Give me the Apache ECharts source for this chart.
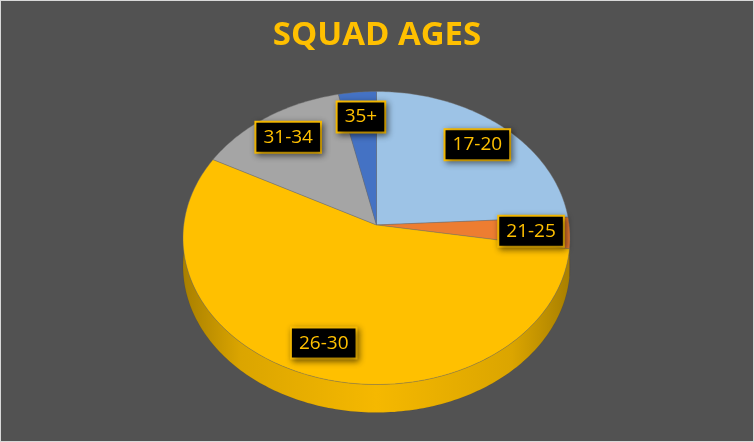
<!DOCTYPE html>
<html>
<head>
<meta charset="utf-8">
<script src="https://cdn.jsdelivr.net/npm/echarts@6/dist/echarts.min.js"></script>
<style>
html, body { margin: 0; padding: 0; background: #d9d9d9; }
#main { position: absolute; left: 1px; top: 1px; width: 752px; height: 440px; }
</style>
</head>
<body>
<div id="main"></div>
<script type="text/javascript">
var categories = ['17-20', '21-25', '26-30', '31-34', '35+'];
var counts = [7, 1, 16, 4, 1];
var colors = ['#9DC3E6', '#ED7D31', '#FFC000', '#A5A5A5', '#4472C4'];

var myChart = echarts.init(document.getElementById('main'));

// 3d pie geometry, px inside the chart
var cx = 375.5, cy = 237, rx = 193.5, ry = 146.5;
var tilt = -0.089;   // perspective, far side squashed a bit
var depth = 28;
var kx = Math.sqrt(1 - tilt * tilt);

var total = 0;
var starts = [];
for (var i = 0; i < counts.length; i++) {
    starts.push(total);
    total += counts[i];
}

function proj(ang, r, dy) {
    var u = r * Math.sin(ang), v = -r * Math.cos(ang);
    var w = 1 + tilt * v;
    return [cx + rx * u * kx / w, cy + ry * (v + tilt) / w + (dy || 0)];
}

function arcPts(a0, a1, dy) {
    var n = Math.max(2, Math.ceil(Math.abs(a1 - a0) / (Math.PI / 180)));
    var pts = [];
    for (var k = 0; k <= n; k++) {
        pts.push(proj(a0 + (a1 - a0) * k / n, 1, dy));
    }
    return pts;
}

function shade(hex, f) {
    var n = parseInt(hex.slice(1), 16);
    var r = Math.round(((n >> 16) & 255) * f);
    var g = Math.round(((n >> 8) & 255) * f);
    var b = Math.round((n & 255) * f);
    return 'rgb(' + r + ',' + g + ',' + b + ')';
}

function sideFill(color) {
    return {
        type: 'linear', global: true,
        x: cx - rx, y: 0, x2: cx + rx, y2: 0,
        colorStops: [
            {offset: 0, color: shade(color, 0.66)},
            {offset: 0.15, color: shade(color, 0.86)},
            {offset: 0.5, color: shade(color, 0.96)},
            {offset: 0.85, color: shade(color, 0.86)},
            {offset: 1, color: shade(color, 0.66)}
        ]
    };
}

function sliceAngles(i, val) {
    return [starts[i] / total * 2 * Math.PI, (starts[i] + val) / total * 2 * Math.PI];
}

function renderSide(params, api) {
    var i = params.dataIndex;
    var a = sliceAngles(i, api.value(0));
    var lo = Math.max(a[0], Math.PI / 2), hi = Math.min(a[1], Math.PI * 1.5);
    if (hi <= lo) {
        return {type: 'group', children: []};
    }
    var pts = arcPts(lo, hi, 0).concat(arcPts(hi, lo, depth));
    return {
        type: 'polygon',
        shape: {points: pts},
        style: {fill: sideFill(colors[i]), stroke: 'rgba(0,0,0,0.12)', lineWidth: 0.5}
    };
}

function renderTop(params, api) {
    var i = params.dataIndex;
    var a = sliceAngles(i, api.value(0));
    var pts = [proj(0, 0, 0)].concat(arcPts(a[0], a[1], 0));
    var lp = proj((a[0] + a[1]) / 2, 0.8, 0);
    return {
        type: 'group',
        children: [
            {
                type: 'polygon',
                shape: {points: pts},
                style: {fill: colors[i], stroke: 'rgba(110,110,110,0.6)', lineWidth: 0.7}
            },
            {
                type: 'text',
                x: lp[0], y: lp[1],
                z2: 20,
                style: {
                    text: categories[i],
                    fill: '#FFC000',
                    font: '19px "Open Sans"',
                    align: 'center',
                    verticalAlign: 'middle',
                    backgroundColor: '#000000',
                    borderColor: '#FFC000',
                    borderWidth: 2,
                    padding: [5, 7, 5, 7],
                    shadowBlur: 6,
                    shadowColor: 'rgba(0,0,0,0.45)',
                    shadowOffsetX: 2,
                    shadowOffsetY: 2
                }
            }
        ]
    };
}

var sliceData = counts.map(function (v, i) {
    return {name: categories[i], value: [v]};
});

option = {
    backgroundColor: '#525252',
    animation: false,
    title: {
        text: 'SQUAD AGES',
        left: 'center',
        top: 13,
        textStyle: {
            color: '#FFC000',
            fontSize: 33,
            fontWeight: 'bold',
            fontFamily: 'Open Sans'
        }
    },
    series: [
        {
            name: 'sides',
            type: 'custom',
            coordinateSystem: 'none',
            renderItem: renderSide,
            data: sliceData,
            z: 1
        },
        {
            name: 'slices',
            type: 'custom',
            coordinateSystem: 'none',
            renderItem: renderTop,
            data: sliceData,
            z: 2
        }
    ]
};

myChart.setOption(option);
</script>
</body>
</html>
